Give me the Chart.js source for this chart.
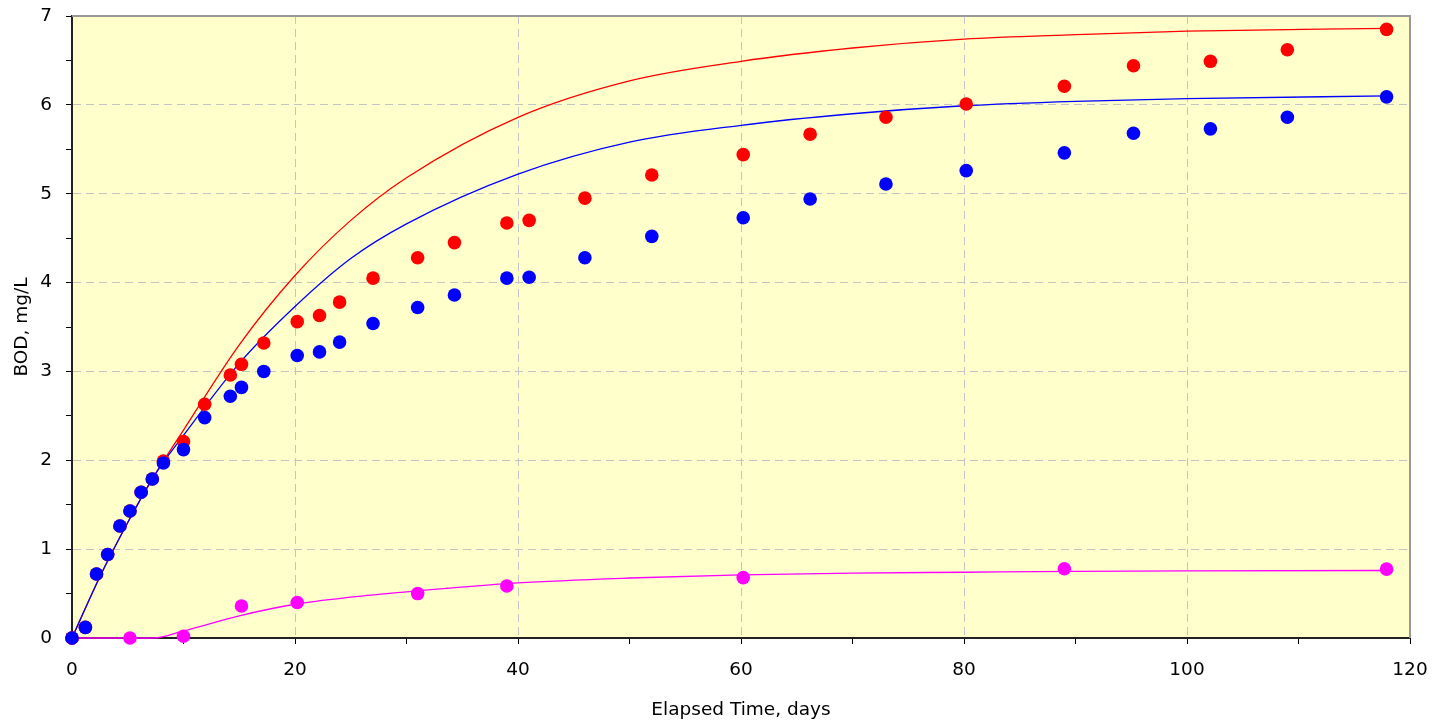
<!DOCTYPE html>
<html>
<head>
<meta charset="utf-8">
<title>BOD</title>
<script src="https://cdn.jsdelivr.net/npm/chart.js@4/dist/chart.umd.min.js"></script>
<style>
  html, body { margin: 0; padding: 0; background: #fff; }
  #grafico { display: block; }
</style>
</head>
<body>
<canvas id="grafico" width="1438" height="728"></canvas>
<script>
// measured points
const blueDays = [0, 1.2, 2.2, 3.2, 4.3, 5.2, 6.2, 7.2, 8.2, 10, 11.9, 14.2, 15.2, 17.2, 20.2, 22.2, 24, 27, 31, 34.3, 39, 41, 46, 52, 60.2, 66.2, 73, 80.2, 89, 95.2, 102.1, 109, 117.9];
const blueBOD = [0, 0.12, 0.72, 0.94, 1.26, 1.43, 1.64, 1.79, 1.97, 2.12, 2.48, 2.72, 2.82, 3.0, 3.18, 3.22, 3.33, 3.54, 3.72, 3.86, 4.05, 4.06, 4.28, 4.52, 4.73, 4.94, 5.11, 5.26, 5.46, 5.68, 5.73, 5.86, 6.09];

const redDays = [0, 1.2, 2.2, 3.2, 4.3, 5.2, 6.2, 7.2, 8.2, 10, 11.9, 14.2, 15.2, 17.2, 20.2, 22.2, 24, 27, 31, 34.3, 39, 41, 46, 52, 60.2, 66.2, 73, 80.2, 89, 95.2, 102.1, 109, 117.9];
const redBOD = [0, 0.12, 0.72, 0.94, 1.26, 1.43, 1.64, 1.79, 1.99, 2.21, 2.63, 2.96, 3.08, 3.32, 3.56, 3.63, 3.78, 4.05, 4.28, 4.45, 4.67, 4.70, 4.95, 5.21, 5.44, 5.67, 5.86, 6.01, 6.21, 6.44, 6.49, 6.62, 6.85];

const pinkDays = [0, 5.2, 10, 15.2, 20.2, 31, 39, 60.2, 89, 117.9];
const pinkBOD = [0, 0, 0.02, 0.36, 0.40, 0.50, 0.585, 0.68, 0.78, 0.775];

// fitted curves
const blueFitDays = [0, 2.5, 5, 7.5, 10, 15, 20, 25, 30, 40, 50, 60, 70, 80, 90, 100, 118];
const blueFit = [0, 0.69, 1.30, 1.85, 2.28, 3.09, 3.73, 4.27, 4.66, 5.22, 5.58, 5.77, 5.90, 5.99, 6.04, 6.07, 6.10];

const redFitDays = [0, 2.5, 5, 7.3, 10, 15, 20, 25, 30, 40, 50, 60, 70, 80, 90, 100, 118];
const redFit = [0, 0.69, 1.30, 1.81, 2.34, 3.30, 4.08, 4.70, 5.18, 5.86, 6.27, 6.49, 6.64, 6.74, 6.79, 6.83, 6.86];

const pinkFitDays = [0, 7.3, 10, 15, 20, 25, 30, 40, 50, 60, 70, 80, 90, 100, 118];
const pinkFit = [0, 0, 0.08, 0.25, 0.38, 0.46, 0.52, 0.62, 0.675, 0.71, 0.73, 0.74, 0.75, 0.755, 0.76];

const xTicks = [0, 20, 40, 60, 80, 100, 120];
const yTicks = [0, 1, 2, 3, 4, 5, 6, 7];

function pares(xs, ys) {
  return xs.map((x, i) => ({ x: x, y: ys[i] }));
}

function pontos(label, xs, ys, cor, ordem) {
  return {
    type: "scatter", label: label, data: pares(xs, ys), order: ordem,
    backgroundColor: cor, borderColor: cor, borderWidth: 0, clip: false,
    pointRadius: 6.8, pointHoverRadius: 6.8, showLine: false,
  };
}

function curva(label, xs, ys, cor, ordem) {
  return {
    type: "line", label: label, data: pares(xs, ys), order: ordem,
    borderColor: cor, backgroundColor: cor, borderWidth: 1.3, clip: 2,
    pointRadius: 0, fill: false, cubicInterpolationMode: "monotone",
  };
}

// fundo amarelo + borda cinza em cima e na direita
const moldura = {
  id: "moldura",
  beforeDraw(chart) {
    const { ctx, chartArea: a } = chart;
    ctx.save();
    ctx.fillStyle = "#ffffcc";
    ctx.fillRect(a.left, a.top, a.right - a.left, a.bottom - a.top);
    ctx.restore();
  },
  afterDatasetsDraw(chart) {
    const { ctx, chartArea: a } = chart;
    ctx.save();
    ctx.strokeStyle = "#999999";
    ctx.lineWidth = 2;
    ctx.beginPath();
    ctx.moveTo(a.left, a.top);
    ctx.lineTo(a.right, a.top);
    ctx.lineTo(a.right, a.bottom);
    ctx.stroke();
    ctx.restore();
  },
};

const fonte = { family: "'DejaVu Sans', Verdana, sans-serif", size: 18.5 };

new Chart(document.getElementById("grafico"), {
  data: {
    datasets: [
      pontos("Blue", blueDays, blueBOD, "#0000ff", 0),
      pontos("Red", redDays, redBOD, "#ff0000", 1),
      pontos("Magenta", pinkDays, pinkBOD, "#ff00ff", 2),
      curva("Blue fit", blueFitDays, blueFit, "#0000ff", 4),
      curva("Red fit", redFitDays, redFit, "#ff0000", 5),
      curva("Magenta fit", pinkFitDays, pinkFit, "#ff00ff", 3),
    ],
  },
  options: {
    responsive: false,
    animation: false,
    devicePixelRatio: 1,
    layout: { padding: { top: 16, right: 28, left: 0, bottom: 0 } },
    plugins: { legend: { display: false }, tooltip: { enabled: false } },
    scales: {
      x: {
        type: "linear", min: 0, max: 120,
        afterFit(s) { s.height = 90; s.paddingLeft = 0; s.paddingRight = 0; },
        ticks: {
          stepSize: 10, autoSkip: false, maxRotation: 0, color: "#000", font: fonte, padding: 15,
          callback: (v) => (xTicks.includes(v) ? v : ""),
        },
        grid: {
          color: (c) => (c.tick && xTicks.includes(c.tick.value) ? "#c4c4c4" : "rgba(0,0,0,0)"),
          tickColor: "#000", tickLength: 6, lineWidth: 1,
        },
        border: { color: "#222", width: 2, dash: [8, 5] },
        title: { display: true, text: "Elapsed Time, days", color: "#000", font: fonte, padding: { top: 0, bottom: 7 } },
      },
      y: {
        type: "linear", min: 0, max: 7,
        afterFit(s) { s.width = 72; s.paddingTop = 0; s.paddingBottom = 0; },
        ticks: {
          stepSize: 0.5, autoSkip: false, color: "#000", font: fonte, padding: 14,
          callback: (v) => (yTicks.includes(v) ? v : ""),
        },
        grid: {
          color: (c) => (c.tick && yTicks.includes(c.tick.value) ? "#c4c4c4" : "rgba(0,0,0,0)"),
          tickColor: "#000", tickLength: 6, lineWidth: 1,
        },
        border: { color: "#222", width: 2, dash: [8, 5] },
        title: { display: true, text: "BOD, mg/L", color: "#000", font: fonte, padding: { top: 11, bottom: 0 } },
      },
    },
  },
  plugins: [moldura],
});
</script>
</body>
</html>
